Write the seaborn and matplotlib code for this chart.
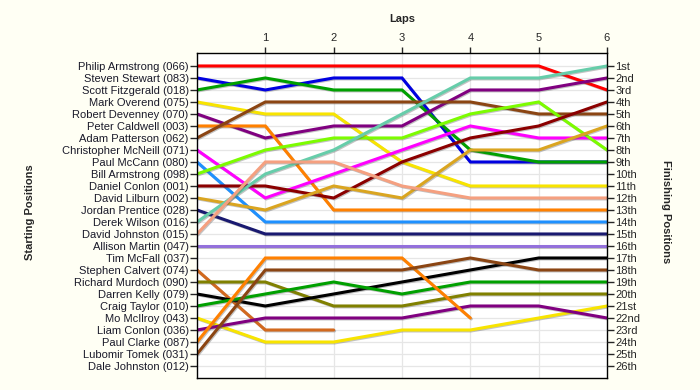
import numpy as np
import pandas as pd
import matplotlib
matplotlib.use("Agg")
import matplotlib.pyplot as plt
import matplotlib.patheffects as pe
import seaborn as sns

laps = [0, 1, 2, 3, 4, 5, 6]

start_labels = [
    "Philip Armstrong (066)", "Steven Stewart (083)", "Scott Fitzgerald (018)",
    "Mark Overend (075)", "Robert Devenney (070)", "Peter Caldwell (003)",
    "Adam Patterson (062)", "Christopher McNeill (071)", "Paul McCann (080)",
    "Bill Armstrong (098)", "Daniel Conlon (001)", "David Lilburn (002)",
    "Jordan Prentice (028)", "Derek Wilson (016)", "David Johnston (015)",
    "Allison Martin (047)", "Tim McFall (037)", "Stephen Calvert (074)",
    "Richard Murdoch (090)", "Darren Kelly (079)", "Craig Taylor (010)",
    "Mo McIlroy (043)", "Liam Conlon (036)", "Paul Clarke (087)",
    "Lubomir Tomek (031)", "Dale Johnston (012)",
]

finish_labels = [
    "1st", "2nd", "3rd", "4th", "5th", "6th", "7th", "8th", "9th", "10th",
    "11th", "12th", "13th", "14th", "15th", "16th", "17th", "18th", "19th",
    "20th", "21st", "22nd", "23rd", "24th", "25th", "26th",
]

nan = np.nan
philip_armstrong = [1, 1, 1, 1, 1, 1, 3]
steven_stewart = [2, 3, 2, 2, 9, 9, 9]
scott_fitzgerald = [3, 2, 3, 3, 8, 9, 9]
mark_overend = [4, 5, 5, 9, 11, 11, 11]
robert_devenney = [5, 7, 6, 6, 3, 3, 2]
peter_caldwell = [6, 6, 13, 13, 13, 13, 13]
adam_patterson = [7, 4, 4, 4, 4, 5, 5]
christopher_mcneill = [8, 12, 10, 8, 6, 7, 7]
paul_mccann = [9, 14, 14, 14, 14, 14, 14]
bill_armstrong = [10, 8, 7, 7, 5, 4, 8]
daniel_conlon = [11, 11, 12, 9, 7, 6, 4]
david_lilburn = [12, 13, 11, 12, 8, 8, 6]
jordan_prentice = [13, 15, 15, 15, 15, 15, 15]
derek_wilson = [14, 10, 8, 5, 2, 2, 1]
david_johnston = [15, 9, 9, 11, 12, 12, 12]
allison_martin = [16, 16, 16, 16, 16, 16, 16]
stephen_calvert = [18, 23, 23, nan, nan, nan, nan]
richard_murdoch = [19, 19, 21, 21, 20, 20, 20]
darren_kelly = [20, 21, 20, 19, 18, 17, 17]
craig_taylor = [21, 20, 19, 20, 19, 19, 19]
mo_mcilroy = [22, 24, 24, 23, 23, 22, 21]
liam_conlon = [23, 22, 22, 22, 21, 21, 22]
paul_clarke = [24, 17, 17, 17, 22, nan, nan]
lubomir_tomek = [25, 18, 18, 18, 17, 18, 18]

series = {
    "Philip Armstrong (066)": philip_armstrong,
    "Steven Stewart (083)": steven_stewart,
    "Scott Fitzgerald (018)": scott_fitzgerald,
    "Mark Overend (075)": mark_overend,
    "Robert Devenney (070)": robert_devenney,
    "Peter Caldwell (003)": peter_caldwell,
    "Adam Patterson (062)": adam_patterson,
    "Christopher McNeill (071)": christopher_mcneill,
    "Paul McCann (080)": paul_mccann,
    "Bill Armstrong (098)": bill_armstrong,
    "Daniel Conlon (001)": daniel_conlon,
    "David Lilburn (002)": david_lilburn,
    "Jordan Prentice (028)": jordan_prentice,
    "Derek Wilson (016)": derek_wilson,
    "David Johnston (015)": david_johnston,
    "Allison Martin (047)": allison_martin,
    "Stephen Calvert (074)": stephen_calvert,
    "Richard Murdoch (090)": richard_murdoch,
    "Darren Kelly (079)": darren_kelly,
    "Craig Taylor (010)": craig_taylor,
    "Mo McIlroy (043)": mo_mcilroy,
    "Liam Conlon (036)": liam_conlon,
    "Paul Clarke (087)": paul_clarke,
    "Lubomir Tomek (031)": lubomir_tomek,
}

colors = {
    "Philip Armstrong (066)": "#FF0000",
    "Steven Stewart (083)": "#0000E0",
    "Scott Fitzgerald (018)": "#00A000",
    "Mark Overend (075)": "#F8E400",
    "Robert Devenney (070)": "#800080",
    "Peter Caldwell (003)": "#FF8000",
    "Adam Patterson (062)": "#8B4513",
    "Christopher McNeill (071)": "#FF00FF",
    "Paul McCann (080)": "#1E90FF",
    "Bill Armstrong (098)": "#7CFC00",
    "Daniel Conlon (001)": "#8B0000",
    "David Lilburn (002)": "#DAA520",
    "Jordan Prentice (028)": "#191970",
    "Derek Wilson (016)": "#66CDAA",
    "David Johnston (015)": "#F5A080",
    "Allison Martin (047)": "#9370DB",
    "Stephen Calvert (074)": "#D2691E",
    "Richard Murdoch (090)": "#808000",
    "Darren Kelly (079)": "#000000",
    "Craig Taylor (010)": "#00A000",
    "Mo McIlroy (043)": "#F8E400",
    "Liam Conlon (036)": "#800080",
    "Paul Clarke (087)": "#FF8000",
    "Lubomir Tomek (031)": "#8B4513",
}

rows = []
for name, vals in series.items():
    for lap, v in zip(laps, vals):
        rows.append({"driver": name, "lap": lap, "pos": v})
df = pd.DataFrame(rows).dropna()

sns.set_style("white")
plt.rcParams["font.family"] = ["Liberation Sans", "DejaVu Sans"]

fig = plt.figure(figsize=(7, 3.9), dpi=100, facecolor="#FFFFF4")
ax = fig.add_axes([197 / 700, 1 - 378 / 390, 410 / 700, 325 / 390])
ax.set_facecolor("white")

sns.lineplot(data=df, x="lap", y="pos", hue="driver", hue_order=list(series.keys()),
             palette=colors, sort=False, legend=False, linewidth=2.2, ax=ax,
             estimator=None, units="driver")

for ln in ax.lines:
    ln.set_path_effects([pe.SimpleLineShadow(offset=(0.7, -0.7), shadow_color="#555555", alpha=0.35),
                         pe.Normal()])
    ln.set_solid_joinstyle("miter")

ax.set_xlim(0, 6)
ax.set_ylim(27.0, -0.08)

ax.set_yticks(range(1, 27))
ax.set_yticklabels(start_labels, fontsize=8, color="#1a1a2a")
ax.set_xticks([1, 2, 3, 4, 5, 6])
ax.set_xticklabels(["1", "2", "3", "4", "5", "6"], fontsize=8)
ax.xaxis.tick_top()
ax.set_xlabel("")
ax.set_ylabel("")

for y in range(1, 27):
    ax.axhline(y, color="#E6E6E6", lw=0.9, zorder=0)
for x in range(1, 6):
    ax.axvline(x, color="#E6E6E6", lw=0.9, zorder=0)

ax.tick_params(axis="y", which="both", left=True, length=5, width=1, pad=1, direction="out")
ax.tick_params(axis="x", which="both", top=True, length=4, width=1, pad=3, direction="out")

for s in ax.spines.values():
    s.set_color("black")
    s.set_linewidth(1)

ax2 = ax.twinx()
ax2.set_ylim(ax.get_ylim())
ax2.set_yticks(range(1, 27))
ax2.set_yticklabels(finish_labels, fontsize=8)
ax2.tick_params(axis="y", right=True, length=5, width=1, pad=1, direction="out")
for s in ax2.spines.values():
    s.set_visible(False)

fig.text(402 / 700, 1 - 19 / 390, "Laps", ha="center", va="center", fontsize=8, fontweight="bold")
fig.text(30 / 700, 1 - 212 / 390, "Starting Positions", ha="center", va="center",
         rotation=90, fontsize=8, fontweight="bold")
fig.text(666 / 700, 1 - 212 / 390, "Finishing Positions", ha="center", va="center",
         rotation=270, fontsize=8, fontweight="bold")

fig.savefig("out.png", dpi=100, facecolor=fig.get_facecolor())
